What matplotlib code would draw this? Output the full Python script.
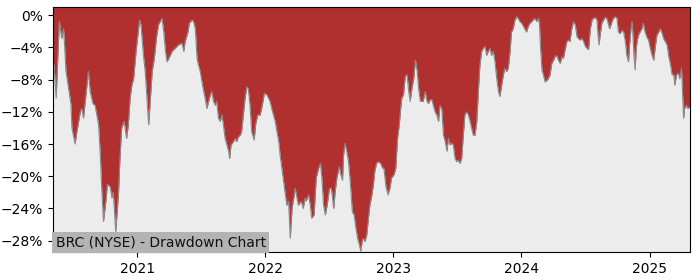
import matplotlib
matplotlib.use("Agg")
import matplotlib.pyplot as plt
import matplotlib.dates as mdates
from matplotlib.ticker import FuncFormatter, MultipleLocator
import pandas as pd

dates_2020 = ["2020-05-05", "2020-05-08", "2020-05-14", "2020-05-23", "2020-05-30", "2020-06-04",
              "2020-06-07", "2020-06-11", "2020-06-18", "2020-06-25", "2020-06-28", "2020-07-07",
              "2020-07-12", "2020-07-22", "2020-07-26", "2020-07-31", "2020-08-05", "2020-08-14",
              "2020-08-19", "2020-08-27", "2020-09-02", "2020-09-07", "2020-09-12", "2020-09-17",
              "2020-09-21", "2020-09-26", "2020-10-04", "2020-10-07", "2020-10-15", "2020-10-20",
              "2020-10-24", "2020-10-31", "2020-11-08", "2020-11-12", "2020-11-17", "2020-11-24",
              "2020-12-01", "2020-12-06", "2020-12-11", "2020-12-16", "2020-12-21", "2020-12-28"]
dd_2020 = [-6.0, -6.2, -10.3, -0.8, -2.9, -1.7,
           -3.7, -7.0, -9.0, -11.0, -14.0, -16.0,
           -14.5, -12.0, -11.6, -12.8, -10.7, -7.0,
           -9.5, -11.0, -11.2, -12.4, -13.6, -17.4,
           -21.5, -25.6, -22.7, -21.0, -21.3, -22.7,
           -22.0, -26.9, -22.0, -17.8, -14.0, -13.2,
           -15.3, -13.6, -10.3, -8.7, -7.9, -4.5]

dates_2021 = ["2021-01-01", "2021-01-07", "2021-01-11", "2021-01-18", "2021-01-23", "2021-01-28",
              "2021-02-02", "2021-02-07", "2021-02-12", "2021-02-18", "2021-02-24", "2021-03-02",
              "2021-03-12", "2021-03-17", "2021-03-22", "2021-03-26", "2021-03-31", "2021-04-10",
              "2021-04-19", "2021-04-28", "2021-05-08", "2021-05-13", "2021-05-17", "2021-05-25",
              "2021-05-29", "2021-06-06", "2021-06-10", "2021-06-15", "2021-06-20", "2021-06-24",
              "2021-06-29", "2021-07-04", "2021-07-09", "2021-07-13", "2021-07-18", "2021-07-23",
              "2021-07-28", "2021-08-01", "2021-08-06", "2021-08-11", "2021-08-15", "2021-08-20",
              "2021-08-25", "2021-08-30", "2021-09-03", "2021-09-08", "2021-09-13", "2021-09-18",
              "2021-09-21", "2021-09-25", "2021-10-02", "2021-10-07", "2021-10-11", "2021-10-16",
              "2021-10-21", "2021-10-25", "2021-10-30", "2021-11-04", "2021-11-09", "2021-11-13",
              "2021-11-18", "2021-11-23", "2021-11-30", "2021-12-04", "2021-12-10", "2021-12-17",
              "2021-12-23", "2021-12-29"]
dd_2021 = [-2.9, -0.6, -1.2, -5.0, -7.0, -10.3,
           -13.6, -10.3, -7.0, -5.4, -2.9, -1.2,
           -0.4, -2.1, -4.5, -5.8, -5.4, -4.5,
           -4.1, -3.7, -3.5, -4.5, -3.3, -2.1,
           -1.0, -0.6, -0.8, -1.7, -5.4, -6.2,
           -7.0, -8.3, -9.5, -10.3, -11.6, -10.7,
           -9.9, -9.5, -10.7, -11.2, -10.7, -12.8,
           -13.2, -12.4, -13.6, -15.3, -16.1, -16.9,
           -17.8, -16.1, -15.7, -15.3, -15.7, -15.1,
           -14.9, -14.5, -12.4, -10.3, -8.9, -9.1,
           -11.2, -14.5, -15.5, -13.6, -12.4, -12.4,
           -11.2, -9.7]

dates_2022 = ["2022-01-05", "2022-01-10", "2022-01-14", "2022-01-19", "2022-01-24", "2022-01-29",
              "2022-02-03", "2022-02-08", "2022-02-12", "2022-02-17", "2022-02-22", "2022-02-27",
              "2022-03-03", "2022-03-08", "2022-03-13", "2022-03-18", "2022-03-23", "2022-03-27",
              "2022-04-01", "2022-04-05", "2022-04-13", "2022-04-19", "2022-04-24", "2022-04-27",
              "2022-05-04", "2022-05-09", "2022-05-13", "2022-05-20", "2022-05-26", "2022-06-02",
              "2022-06-07", "2022-06-11", "2022-06-16", "2022-06-21", "2022-06-26", "2022-07-03",
              "2022-07-08", "2022-07-15", "2022-07-19", "2022-07-24", "2022-07-31", "2022-08-04",
              "2022-08-09", "2022-08-12", "2022-08-16", "2022-08-21", "2022-08-26", "2022-08-31",
              "2022-09-06", "2022-09-11", "2022-09-16", "2022-09-21", "2022-09-26", "2022-09-30",
              "2022-10-04", "2022-10-07", "2022-10-12", "2022-10-17", "2022-10-21", "2022-10-26",
              "2022-10-31", "2022-11-05", "2022-11-09", "2022-11-14", "2022-11-19", "2022-11-26",
              "2022-12-01", "2022-12-05", "2022-12-11", "2022-12-17", "2022-12-22", "2022-12-27"]
dd_2022 = [-9.9, -10.3, -10.7, -11.6, -12.4, -13.2,
           -14.5, -15.7, -17.4, -19.0, -20.7, -22.3,
           -23.6, -23.1, -27.7, -24.0, -22.7, -21.5,
           -22.7, -23.6, -23.1, -24.0, -22.7, -23.1,
           -22.3, -23.6, -25.2, -24.8, -20.2, -19.0,
           -18.4, -20.2, -23.6, -24.8, -23.6, -21.5,
           -21.5, -24.0, -21.9, -20.2, -18.8, -19.8,
           -20.5, -17.4, -15.9, -16.9, -18.2, -20.7,
           -24.4, -24.8, -26.4, -27.7, -28.5, -29.3,
           -28.1, -27.7, -28.1, -27.3, -25.6, -23.6,
           -22.5, -21.1, -19.4, -18.4, -18.2, -18.4,
           -19.0, -19.0, -21.3, -22.3, -21.5, -20.2]

dates_2023 = ["2023-01-03", "2023-01-08", "2023-01-13", "2023-01-18", "2023-01-21", "2023-01-25",
              "2023-01-30", "2023-02-04", "2023-02-09", "2023-02-14", "2023-02-18", "2023-02-23",
              "2023-02-28", "2023-03-05", "2023-03-10", "2023-03-14", "2023-03-19", "2023-03-27",
              "2023-04-02", "2023-04-07", "2023-04-11", "2023-04-16", "2023-04-21", "2023-04-25",
              "2023-04-30", "2023-05-05", "2023-05-10", "2023-05-14", "2023-05-19", "2023-05-24",
              "2023-05-29", "2023-06-03", "2023-06-07", "2023-06-12", "2023-06-17", "2023-06-21",
              "2023-06-26", "2023-07-01", "2023-07-05", "2023-07-10", "2023-07-15", "2023-07-19",
              "2023-07-24", "2023-07-29", "2023-08-03", "2023-08-08", "2023-08-12", "2023-08-17",
              "2023-08-22", "2023-08-27", "2023-09-01", "2023-09-05", "2023-09-10", "2023-09-15",
              "2023-09-20", "2023-09-24", "2023-09-29", "2023-10-04", "2023-10-08", "2023-10-13",
              "2023-10-18", "2023-10-23", "2023-10-28", "2023-11-01", "2023-11-06", "2023-11-11",
              "2023-11-15", "2023-11-20", "2023-11-25", "2023-11-30", "2023-12-04", "2023-12-09",
              "2023-12-14", "2023-12-19", "2023-12-23", "2023-12-28"]
dd_2023 = [-19.8, -19.0, -15.3, -13.6, -12.0, -10.3,
           -9.9, -7.6, -7.4, -9.5, -10.7, -9.1,
           -7.9, -5.6, -7.0, -9.1, -10.7, -10.7,
           -9.5, -10.7, -11.0, -10.5, -10.5, -11.2,
           -12.0, -12.4, -13.2, -11.2, -11.6, -14.9,
           -15.7, -16.9, -15.3, -16.1, -15.9, -16.1,
           -17.8, -18.2, -18.0, -18.4, -17.8, -15.3,
           -12.4, -12.0, -12.4, -13.2, -14.0, -14.9,
           -14.9, -13.2, -9.1, -6.2, -4.5, -4.1,
           -3.9, -5.0, -4.5, -4.1, -5.0, -4.5,
           -5.8, -7.9, -9.5, -10.1, -8.7, -7.4,
           -6.6, -7.0, -6.6, -4.5, -2.1, -1.7,
           -0.6, -0.2, -0.4, -0.8]

dates_2024 = ["2024-01-02", "2024-01-07", "2024-01-11", "2024-01-16", "2024-01-21", "2024-01-26",
              "2024-01-31", "2024-02-04", "2024-02-09", "2024-02-14", "2024-02-19", "2024-02-22",
              "2024-02-25", "2024-02-29", "2024-03-04", "2024-03-09", "2024-03-14", "2024-03-18",
              "2024-03-23", "2024-03-28", "2024-04-02", "2024-04-06", "2024-04-11", "2024-04-16",
              "2024-04-21", "2024-04-26", "2024-04-30", "2024-05-05", "2024-05-10", "2024-05-15",
              "2024-05-19", "2024-05-24", "2024-05-29", "2024-06-03", "2024-06-08", "2024-06-12",
              "2024-06-17", "2024-06-22", "2024-06-27", "2024-07-02", "2024-07-06", "2024-07-11",
              "2024-07-16", "2024-07-21", "2024-07-25", "2024-07-30", "2024-08-04", "2024-08-07",
              "2024-08-10", "2024-08-13", "2024-08-18", "2024-08-23", "2024-08-27", "2024-09-01",
              "2024-09-06", "2024-09-09", "2024-09-13", "2024-09-16", "2024-09-20", "2024-09-25",
              "2024-09-30", "2024-10-04", "2024-10-09", "2024-10-14", "2024-10-19", "2024-10-24",
              "2024-10-28", "2024-11-02", "2024-11-05", "2024-11-09", "2024-11-12", "2024-11-14",
              "2024-11-18", "2024-11-21", "2024-11-24", "2024-11-28", "2024-12-02", "2024-12-05",
              "2024-12-10", "2024-12-14", "2024-12-19", "2024-12-24", "2024-12-29"]
dd_2024 = [-1.0, -1.4, -1.7, -2.1, -1.4, -1.0,
           -0.8, -0.6, -0.4, -0.8, -0.4, -1.2,
           -4.1, -6.8, -7.4, -8.3, -8.1, -7.9,
           -7.4, -6.0, -5.6, -5.2, -5.0, -5.6,
           -6.0, -5.2, -5.4, -4.3, -3.3, -3.1,
           -3.3, -1.7, -0.8, -1.2, -2.7, -2.9,
           -3.1, -2.9, -3.3, -3.9, -4.1, -4.3,
           -1.7, -0.6, -0.4, -0.3, -0.6, -2.5,
           -3.7, -2.5, -1.0, -0.6, -0.3, -0.4,
           -1.2, -1.7, -1.2, -0.8, -0.4, -0.2,
           -0.4, -2.1, -2.3, -1.9, -2.1, -3.3,
           -5.0, -5.8, -3.7, -1.7, -0.8, -2.1,
           -5.4, -6.8, -4.1, -2.9, -2.3, -2.1,
           -1.7, -1.0, -2.1, -2.7, -3.1]

dates_2025 = ["2025-01-03", "2025-01-08", "2025-01-13", "2025-01-18", "2025-01-22", "2025-01-27",
              "2025-02-01", "2025-02-06", "2025-02-10", "2025-02-15", "2025-02-20", "2025-02-25",
              "2025-03-02", "2025-03-06", "2025-03-11", "2025-03-14", "2025-03-19", "2025-03-24",
              "2025-03-28", "2025-04-02", "2025-04-05", "2025-04-08", "2025-04-11", "2025-04-16",
              "2025-04-20", "2025-04-25"]
dd_2025 = [-4.1, -5.0, -5.6, -3.7, -2.5, -2.1,
           -1.7, -2.3, -2.9, -3.3, -3.7, -5.2,
           -6.2, -7.4, -7.4, -8.7, -7.4, -7.2,
           -7.9, -6.6, -9.5, -12.8, -11.6, -11.2,
           -11.6, -11.4]

y_ticks = [0, -4, -8, -12, -16, -20, -24, -28]
title_text = "BRC (NYSE) - Drawdown Chart"

dates = pd.to_datetime(dates_2020 + dates_2021 + dates_2022 + dates_2023 + dates_2024 + dates_2025)
dd = dd_2020 + dd_2021 + dd_2022 + dd_2023 + dd_2024 + dd_2025

fig = plt.figure(figsize=(7, 2.8), dpi=100)
ax = fig.add_axes([0.0757, 0.1, 0.9093, 0.875])
ax.set_facecolor("#ececec")

y_top = 1.0
y_bottom = -29.4
ax.fill_between(dates, dd, y_top, color="#b03030", linewidth=0)
ax.plot(dates, dd, color="#8a8a8a", linewidth=0.8)

ax.set_xlim(dates[0], dates[-1])
ax.set_ylim(y_bottom, y_top)
ax.set_yticks(y_ticks)
ax.yaxis.set_major_formatter(FuncFormatter(lambda v, p: f"{v:.0f}%".replace("-", "\u2212")))
ax.xaxis.set_major_locator(mdates.YearLocator())
ax.xaxis.set_major_formatter(mdates.DateFormatter("%Y"))
ax.tick_params(labelsize=10)

ax.text(0.004, 0.012, title_text, transform=ax.transAxes, fontsize=10,
        ha="left", va="bottom", color="#111111",
        bbox=dict(facecolor="#b3b3b3", edgecolor="none", pad=2.5))

fig.savefig("out.png", dpi=100)
